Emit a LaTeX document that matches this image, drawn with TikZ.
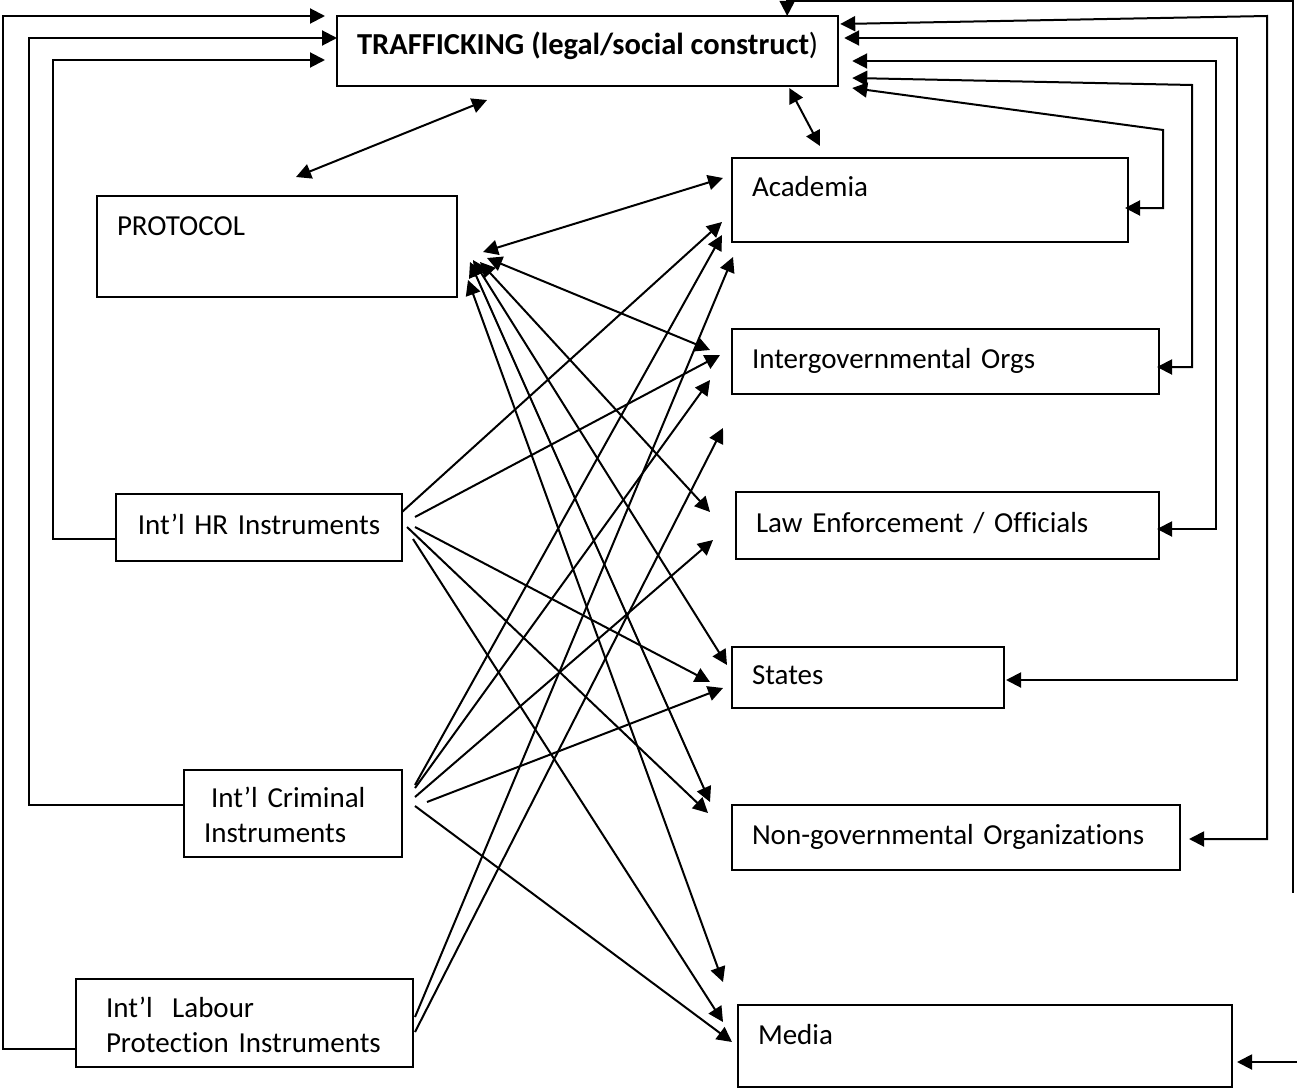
\documentclass[tikz,border=0pt]{standalone}
\usepackage{fontspec}
\setmainfont{Carlito}[Ligatures=NoCommon]
\usetikzlibrary{arrows.meta}
\usetikzlibrary{positioning, calc}

\begin{document}
\begin{tikzpicture}[x=1pt, y=-1pt, line width=2pt,
    >={Triangle[length=15pt, width=15pt]},
    box/.style={draw, line width=1.8pt, anchor=north west, align=left, outer sep=0pt,
      inner xsep=20pt, inner ysep=0pt, text height=20pt, text depth=6pt,
      font=\fontsize{29}{35.5}\selectfont}]
  \useasboundingbox (0,0) rectangle (1297,1089);

  % Construct and Protocol
  \node[box, align=center, minimum width=497pt, minimum height=70pt, text depth=12pt,
    font=\fontsize{30.5}{36}\selectfont] (traf) at (337,16)
    {\textbf{TRAFFICKING (legal/social construct})};
  \node[box, text width=320pt, minimum height=101pt, text depth=43pt] (prot) at (97,196) {PROTOCOL};

  % Actors (right column)
  \node[box, text width=356pt, minimum height=84pt, text depth=28pt] (acad) at (732,158) {Academia};
  \node[box, text width=387pt, minimum height=65pt, below right=87pt and 0pt of acad.south west] (igo) {Intergovernmental Orgs};
  \node[box, text width=383pt, minimum height=67pt, below right=98pt and 4pt of igo.south west] (le) {Law Enforcement / Officials};
  \node[box, text width=232pt, minimum height=61pt, below right=88pt and -4pt of le.south west] (states) {States};
  \node[box, text width=408pt, minimum height=65pt, below right=97pt and 0pt of states.south west] (ngo) {Non-governmental Organizations};
  \node[box, text width=454pt, minimum height=82pt, text depth=24pt, below right=135pt and 6pt of ngo.south west] (media) {Media};

  % Instruments (left column)
  \node[box, align=center, text width=246pt, minimum height=67pt] (hr) at (116,494) {Int’l HR Instruments};
  \node[box, text width=178pt, minimum height=87pt, text depth=33pt] (crim) at (184,770) {\hspace*{7pt}Int’l Criminal\\Instruments};
  \node[box, inner xsep=30pt, text width=277pt, minimum height=88pt, text depth=32pt] (lab) at (76,979) {Int’l~~Labour\\Protection Instruments};

  % Free ends of the media loop
  \coordinate (mcut) at (1293,893);
  \coordinate (mstub) at (1297,1062);

  % Construct <-> Protocol, Academia
  \path ([shift={(150,14)}]traf.south west) edge[<->] ([shift={(19,-19)}]prot.north)
        ([shift={(-49,2)}]traf.south east) edge[<->] ([shift={(88,-12)}]acad.north west);

  % Protocol <-> every actor
  \path ([shift={(26,56)}]prot.north east) edge[<->] ([shift={(-9,20)}]acad.north west)
        ([shift={(30,62)}]prot.north east) edge[<->] ([shift={(-22,21)}]igo.north west)
        ([shift={(23,66)}]prot.north east) edge[<->] ([shift={(-26,20)}]le.north west)
        ([shift={(16,64)}]prot.north east) edge[<->] ([shift={(-5,18)}]states.north west)
        ([shift={(13,66)}]prot.north east) edge[<->] ([shift={(-22,-3)}]ngo.north west)
        ([shift={(11,84)}]prot.north east) edge[<->] ([shift={(-15,-23)}]media.north west);

  % HR instruments
  \path ([shift={(0,18)}]hr.north east) edge[->] ([shift={(-10,64)}]acad.north west)
        ([shift={(13,23)}]hr.north east) edge[->] ([shift={(-12,26)}]igo.north west)
        ([shift={(13,33)}]hr.north east) edge[->] ([shift={(-22,35)}]states.north west)
        ([shift={(5,33)}]hr.north east) edge[->] ([shift={(-24,8)}]ngo.north west)
        ([shift={(11,45)}]hr.north east) edge[->] ([shift={(-15,17)}]media.north west);

  % Criminal instruments
  \path ([shift={(13,15)}]crim.north east) edge[->] ([shift={(-10,77)}]acad.north west)
        ([shift={(13,18)}]crim.north east) edge[->] ([shift={(-22,51)}]igo.north west)
        ([shift={(13,27)}]crim.north east) edge[->] ([shift={(-23,48)}]le.north west)
        ([shift={(25,32)}]crim.north east) edge[->] ([shift={(-9,41)}]states.north west)
        ([shift={(13,36)}]crim.north east) edge[->] ([shift={(-6,37)}]media.north west);

  % Labour instruments
  \path ([shift={(2,38)}]lab.north east) edge[->] ([shift={(1,99)}]acad.north west)
        ([shift={(2,53)}]lab.north east) edge[->] ([shift={(-9,99)}]igo.north west);

  % Feedback loops, right side
  \draw[<->] ([shift={(14,72)}]traf.north east) -- ++(311,42) |- ([shift={(-3,50)}]acad.north east);
  \draw[<->] ([shift={(14,62)}]traf.north east) -- ++(340,7) |- ([shift={(-2,38)}]igo.north east);
  \draw[<->] ([shift={(14,45)}]traf.north east) -- ++(364,0) |- ([shift={(-2,37)}]le.north east);
  \draw[<->] ([shift={(6,22)}]traf.north east) -- ++(393,0) |- ([shift={(2,33)}]states.north east);
  \draw[<->] ([shift={(2,8)}]traf.north east) -- ++(427,-8) |- ([shift={(9,34)}]ngo.north east);
  \draw[<-] ([shift={(-51,0)}]traf.north east) -- ++(0,-15) -| (mcut);
  \draw[->] (mstub) -- ([shift={(5,16)}]media.east);

  % Feedback loops, left side
  \draw[->] ([shift={(0,-18)}]lab.south west) -- ++(-73,0) |- ([shift={(-12,0)}]traf.north west);
  \draw[->] ([shift={(0,35)}]crim.north west) -- ++(-155,0) |- ([shift={(0,22)}]traf.north west);
  \draw[->] ([shift={(0,45)}]hr.north west) -- ++(-63,0) |- ([shift={(-12,44)}]traf.north west);
\end{tikzpicture}
\end{document}
